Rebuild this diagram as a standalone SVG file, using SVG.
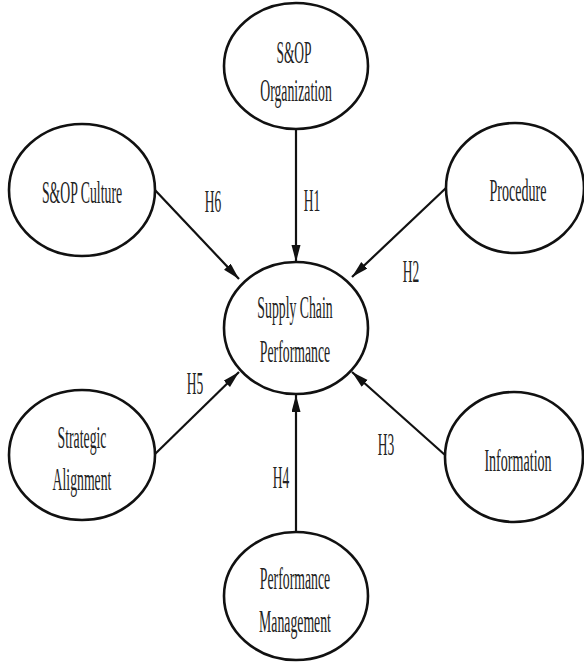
<svg xmlns="http://www.w3.org/2000/svg" width="584" height="663" viewBox="0 0 584 663">
<style>
  .node ellipse { fill: #ffffff; stroke: #111111; stroke-width: 2.6; }
  .node text, .lbl { font-family: "Liberation Serif", "Times New Roman", serif; font-size: 32px; fill: #222222; text-anchor: middle; }
  .edge { stroke: #111111; stroke-width: 2.2; fill: none; marker-end: url(#arr); }
</style>
<defs>
  <marker id="arr" markerUnits="userSpaceOnUse" markerWidth="18" markerHeight="10" refX="17" refY="4.5" orient="auto">
    <path d="M0,0 L17,4.5 L0,9 Z" fill="#111111"/>
  </marker>
</defs>
<rect width="584" height="663" fill="#ffffff"/>
<g id="connectors">
  <line class="edge" x1="296" y1="129" x2="296" y2="262"/>
  <line class="edge" x1="154" y1="189" x2="239" y2="279"/>
  <line class="edge" x1="446" y1="188" x2="352" y2="277"/>
  <line class="edge" x1="445" y1="455" x2="352" y2="372"/>
  <line class="edge" x1="154" y1="455" x2="239" y2="372"/>
  <line class="edge" x1="296" y1="532" x2="296" y2="395"/>
  <text class="lbl" transform="translate(312 211) scale(0.42 1)">H1</text>
  <text class="lbl" transform="translate(411 282) scale(0.42 1)">H2</text>
  <text class="lbl" transform="translate(386 455) scale(0.42 1)">H3</text>
  <text class="lbl" transform="translate(281 488) scale(0.42 1)">H4</text>
  <text class="lbl" transform="translate(195 394) scale(0.42 1)">H5</text>
  <text class="lbl" transform="translate(213 212) scale(0.42 1)">H6</text>
</g>
<g id="sop-organization" class="node">
  <ellipse cx="296" cy="66" rx="72" ry="63"/>
  <text transform="translate(294 63) scale(0.42 1)">S&amp;OP</text>
  <text transform="translate(296 101) scale(0.43 1)">Organization</text>
</g>
<g id="sop-culture" class="node">
  <ellipse cx="82" cy="190" rx="73" ry="66"/>
  <text transform="translate(82 203) scale(0.43 1)">S&amp;OP Culture</text>
</g>
<g id="procedure" class="node">
  <ellipse cx="515" cy="188" rx="69" ry="65"/>
  <text transform="translate(518 201) scale(0.44 1)">Procedure</text>
</g>
<g id="supply-chain-performance" class="node">
  <ellipse cx="296" cy="328" rx="72" ry="66"/>
  <text transform="translate(295 318) scale(0.43 1)">Supply Chain</text>
  <text transform="translate(295 362) scale(0.43 1)">Performance</text>
</g>
<g id="strategic-alignment" class="node">
  <ellipse cx="82" cy="455" rx="73" ry="65"/>
  <text transform="translate(82 448) scale(0.43 1)">Strategic</text>
  <text transform="translate(82 490) scale(0.43 1)">Alignment</text>
</g>
<g id="information" class="node">
  <ellipse cx="514" cy="457" rx="69" ry="65"/>
  <text transform="translate(518 471) scale(0.44 1)">Information</text>
</g>
<g id="performance-management" class="node">
  <ellipse cx="296" cy="596" rx="72" ry="64"/>
  <text transform="translate(295 589) scale(0.43 1)">Performance</text>
  <text transform="translate(295 632) scale(0.43 1)">Management</text>
</g>
</svg>
